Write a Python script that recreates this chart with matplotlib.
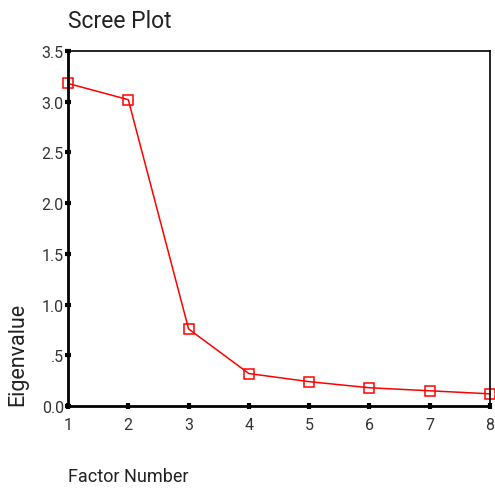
import matplotlib
matplotlib.use("Agg")
import matplotlib.pyplot as plt
from matplotlib import font_manager

factors = [1, 2, 3, 4, 5, 6, 7, 8]
eigenvalues = [3.18, 3.02, 0.76, 0.32, 0.24, 0.18, 0.15, 0.12]
ytick_vals = [0.0, 0.5, 1.0, 1.5, 2.0, 2.5, 3.0, 3.5]
ytick_labels = ["0.0", ".5", "1.0", "1.5", "2.0", "2.5", "3.0", "3.5"]

avail = {f.name for f in font_manager.fontManager.ttflist}
fam = [f for f in ["Liberation Sans Narrow", "Roboto", "DejaVu Sans"] if f in avail]
plt.rcParams['font.family'] = fam

fig = plt.figure(figsize=(4.95, 4.89), dpi=100)
W, H = 495, 489
ax = fig.add_axes([68 / W, 1 - 407 / H, (490 - 68) / W, (407 - 52) / H])
ax.plot(factors, eigenvalues, color='red', lw=1.1, marker='s', ms=7,
        mfc='none', mec='red', mew=1.1, clip_on=False)
ax.set_xlim(1, 8)
ax.set_ylim(0, 3.5)
ax.set_xticks(factors)
ax.set_yticks(ytick_vals)
ax.set_yticklabels(ytick_labels)
for s in ax.spines.values():
    s.set_linewidth(1.2)
ax.spines['left'].set_linewidth(2)
ax.spines['bottom'].set_linewidth(2)
ax.tick_params(axis='both', direction='inout', length=4, width=3, labelsize=11.5,
               colors='black', labelcolor='#333333')
ax.tick_params(axis='y', pad=1)
ax.tick_params(axis='x', pad=6)

fig.text(68 / W, 1 - 22 / H, "Scree Plot", fontsize=16.5, va='center', ha='left', color='#222222')
fig.text(18 / W, 1 - 354 / H, "Eigenvalue", fontsize=15.5, rotation=90, va='center', ha='center', color='#222222')
fig.text(68 / W, 1 - 477 / H, "Factor Number", fontsize=13, va='center', ha='left', color='#222222')

fig.savefig("out.png", dpi=100)
